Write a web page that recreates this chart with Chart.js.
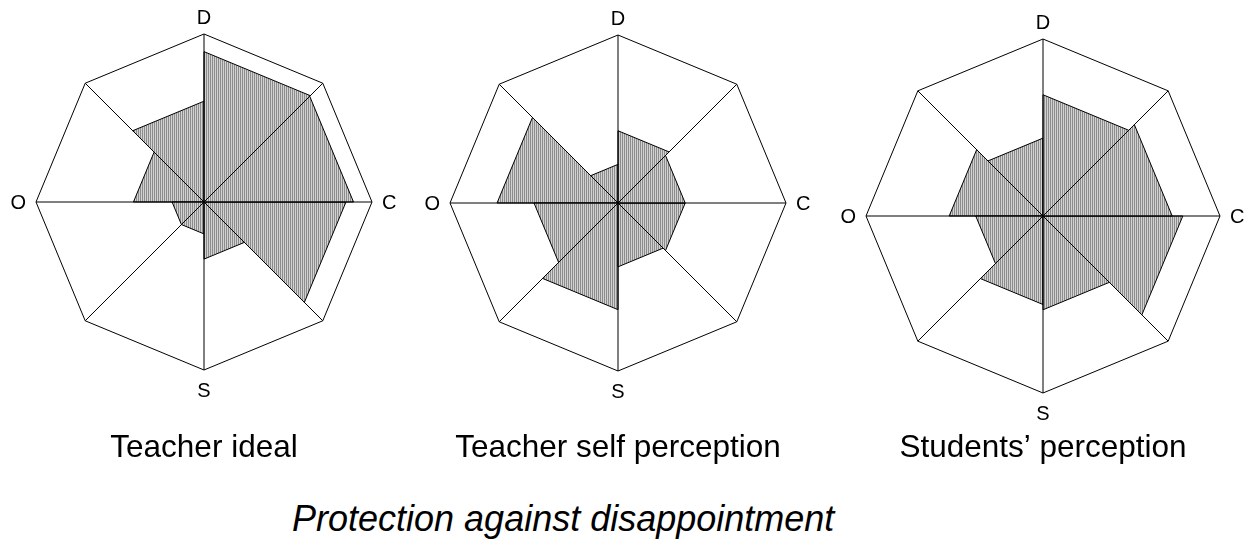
<!DOCTYPE html>
<html>
<head>
<meta charset="utf-8">
<script src="https://cdn.jsdelivr.net/npm/chart.js@4/dist/chart.umd.min.js"></script>
<style>
  html, body { margin: 0; padding: 0; background: #fff; }
  body { width: 1256px; height: 546px; overflow: hidden; position: relative; }
  canvas { position: absolute; }
  #mainTitle {
    position: absolute; left: 292px; top: 501px; white-space: nowrap;
    font-family: "Liberation Sans", Arial, sans-serif; font-style: italic;
    font-size: 36px; line-height: 36px; color: #000;
  }
</style>
</head>
<body>
<canvas id="c1" width="408" height="470" style="left:0px;top:0px"></canvas>
<canvas id="c2" width="408" height="470" style="left:414px;top:0px"></canvas>
<canvas id="c3" width="430" height="470" style="left:826px;top:0px"></canvas>
<div id="mainTitle">Protection against disappointment</div>
<script>
// ---- data ----
const sectorNames = ['DC', 'CD', 'CS', 'SC', 'SO', 'OS', 'OD', 'DO'];
const axisLabels = ['D', '', 'C', '', 'S', '', 'O', ''];
const teacherIdeal = [0.895, 0.89, 0.845, 0.34, 0.19, 0.19, 0.42, 0.60];
const teacherSelf = [0.43, 0.40, 0.40, 0.38, 0.635, 0.50, 0.72, 0.23];
const studentsView = [0.685, 0.73, 0.79, 0.53, 0.50, 0.38, 0.53, 0.44];
const chartTitles = ['Teacher ideal', 'Teacher self perception', 'Students\u2019 perception'];
const scaleMin = 0;
const scaleMax = 1;

const FONT = '"Liberation Sans", Arial, sans-serif';

function makePattern() {
  const pc = document.createElement('canvas');
  pc.width = 2; pc.height = 1;
  const p = pc.getContext('2d');
  p.fillStyle = '#d2d2d2'; p.fillRect(0, 0, 2, 1);
  p.fillStyle = '#8c8c8c'; p.fillRect(0, 0, 1, 1);
  return p.createPattern(pc, 'repeat');
}

const axisLabelPlugin = {
  id: 'axisLabels',
  afterDraw(chart) {
    const s = chart.scales.r;
    const ctx = chart.ctx;
    const labels = chart.data.labels;
    ctx.save();
    ctx.fillStyle = '#000';
    ctx.font = '20px ' + FONT;
    const R = s.drawingArea;
    labels.forEach((lab, i) => {
      if (!lab) return;
      const p = s.getPointPosition(i, R);
      if (i === 0) { ctx.textAlign = 'center'; ctx.textBaseline = 'alphabetic'; ctx.fillText(lab, p.x, p.y - 10.5); }
      else if (i === 4) { ctx.textAlign = 'center'; ctx.textBaseline = 'alphabetic'; ctx.fillText(lab, p.x, p.y + 27); }
      else if (i === 2) { ctx.textAlign = 'left'; ctx.textBaseline = 'alphabetic'; ctx.fillText(lab, p.x + 10, p.y + 7); }
      else if (i === 6) { ctx.textAlign = 'right'; ctx.textBaseline = 'alphabetic'; ctx.fillText(lab, p.x - 10, p.y + 7); }
    });
    ctx.restore();
  }
};

function buildChart(id, values, title, pad, titleTop) {
  const pattern = makePattern();
  const n = axisLabels.length;
  const datasets = values.map((v, k) => {
    const data = new Array(n).fill(0);
    data[k] = v;
    data[(k + 1) % n] = v;
    return {
      label: sectorNames[k],
      data,
      fill: 'origin',
      backgroundColor: pattern,
      borderColor: '#000',
      borderWidth: 1,
      pointRadius: 0,
      pointHoverRadius: 0,
      tension: 0
    };
  });
  return new Chart(document.getElementById(id), {
    type: 'radar',
    data: { labels: axisLabels, datasets },
    options: {
      responsive: false,
      animation: false,
      events: [],
      layout: { padding: pad },
      plugins: {
        legend: { display: false },
        tooltip: { enabled: false },
        title: {
          display: true,
          text: title,
          position: 'bottom',
          color: '#000',
          font: { family: FONT, size: 31.5, weight: 'normal', lineHeight: 1 },
          padding: { top: titleTop, bottom: 0 }
        }
      },
      scales: {
        r: {
          min: scaleMin,
          max: scaleMax,
          ticks: { display: false, stepSize: scaleMax - scaleMin },
          grid: { color: '#000', lineWidth: 1, circular: false, z: 1 },
          angleLines: { color: '#000', lineWidth: 1 },
          pointLabels: { display: false }
        }
      }
    },
    plugins: [axisLabelPlugin]
  });
}

buildChart('c1', teacherIdeal, chartTitles[0], { left: 36, right: 36, top: 34, bottom: 5.5 }, 63);
buildChart('c2', teacherSelf, chartTitles[1], { left: 36, right: 36, top: 35, bottom: 5.5 }, 62);
buildChart('c3', studentsView, chartTitles[2], { left: 40, right: 36, top: 39, bottom: 5.5 }, 40);
</script>
</body>
</html>
